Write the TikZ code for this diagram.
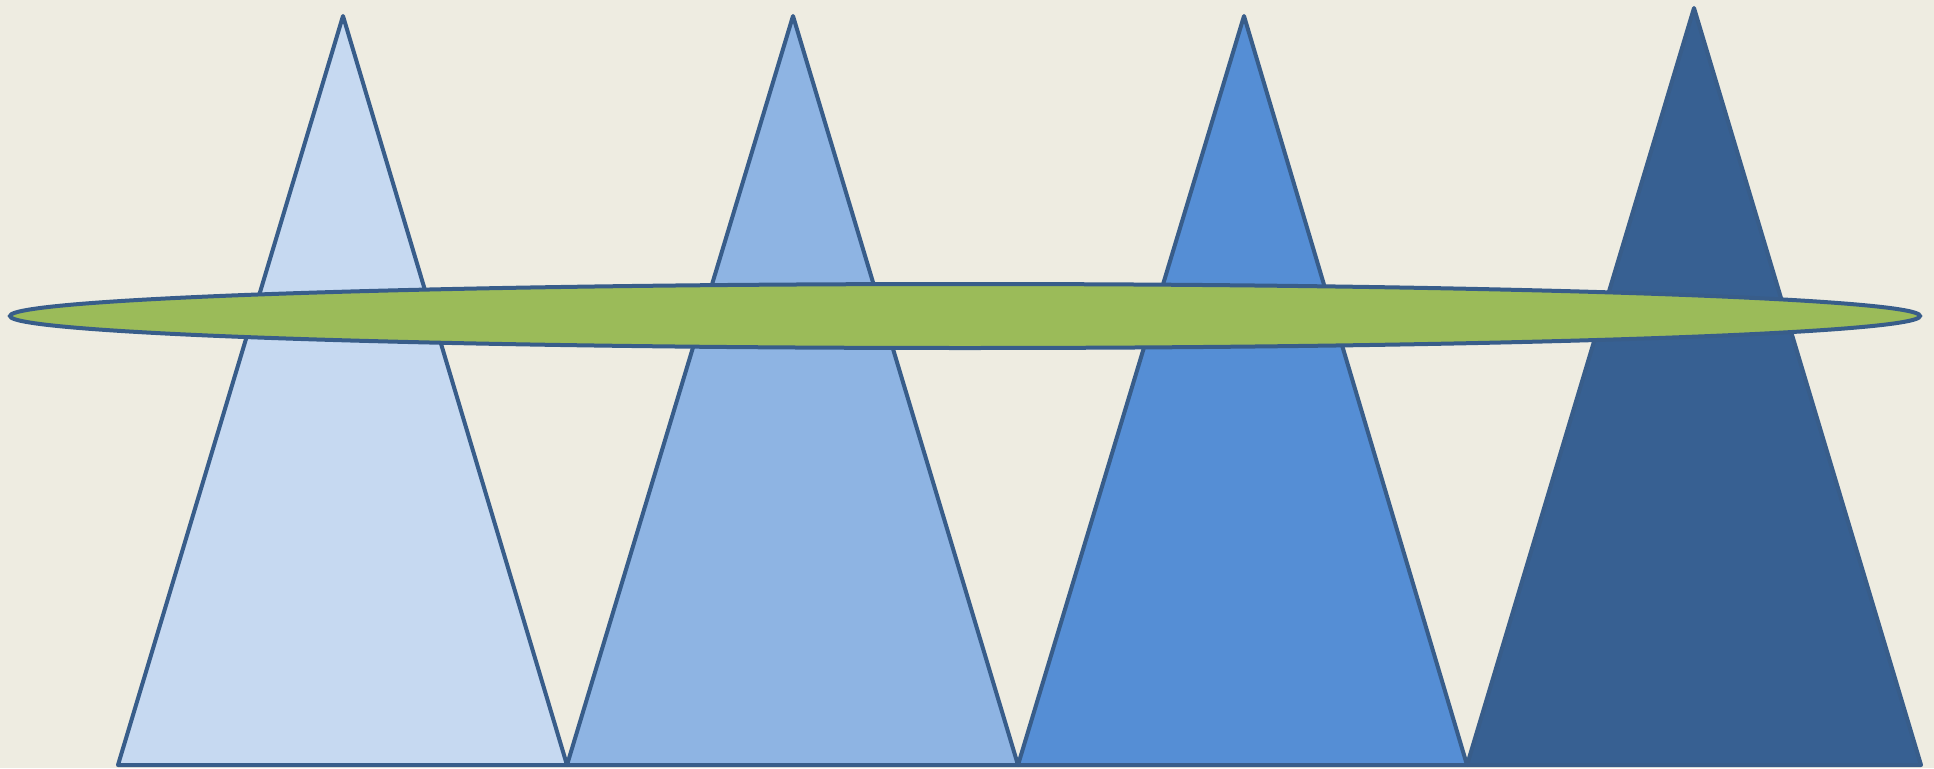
\documentclass[tikz,border=0pt]{standalone}
\definecolor{bg}{HTML}{EEECE1}
\definecolor{edge}{HTML}{385D8A}
\definecolor{tone1}{HTML}{C6D9F1}
\definecolor{tone2}{HTML}{8EB4E3}
\definecolor{tone3}{HTML}{558ED5}
\definecolor{tone4}{HTML}{376092}
\definecolor{ring}{HTML}{9BBB59}
\tikzset{
  cone/.style={draw=edge, line width=4pt, line join=round},
  disc/.style={draw=edge, fill=ring, line width=4pt}
}
\begin{document}
\begin{tikzpicture}[x=1pt,y=-1pt]
\fill[bg] (0,0) rectangle (1934,768);
\useasboundingbox (0,0) rectangle (1934,768);
% triangles
\filldraw[cone, fill=tone1] (118,765) -- (343,16) -- (567,765) -- cycle;
\filldraw[cone, fill=tone2] (567,765) -- (793,16) -- (1018,765) -- cycle;
\filldraw[cone, fill=tone3] (1018,765) -- (1244,16) -- (1467,765) -- cycle;
\filldraw[cone, fill=tone4] (1467,765) -- (1694,8) -- (1921,765) -- cycle;
% flat ring
\draw[disc] (965,316) ellipse [x radius=955, y radius=32];
\end{tikzpicture}
\end{document}
